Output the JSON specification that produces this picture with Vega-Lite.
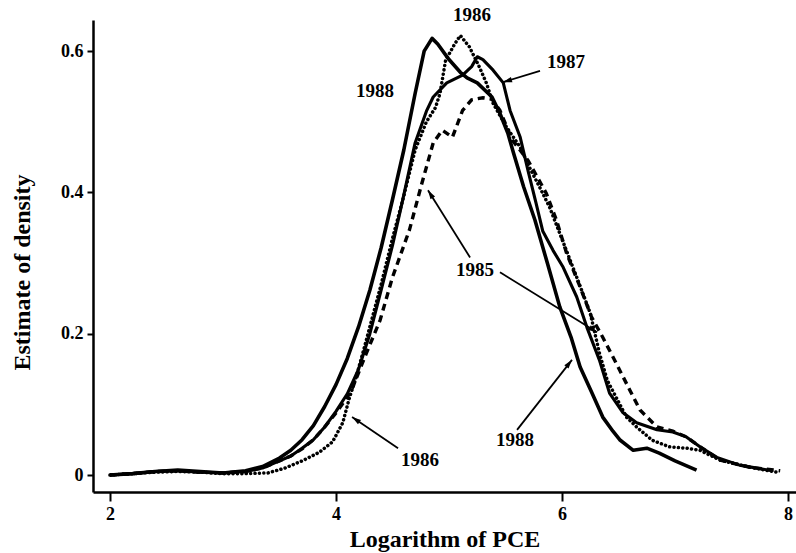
{
  "$schema": "https://vega.github.io/schema/vega-lite/v6.json",
  "width": 703,
  "height": 472,
  "autosize": {"type": "none"},
  "padding": {"left": 93, "top": 20, "right": 0, "bottom": 61},
  "background": "white",
  "config": {
    "view": {"stroke": null},
    "font": "Liberation Serif",
    "axis": {
      "grid": false,
      "domainColor": "black",
      "tickColor": "black",
      "labelColor": "black",
      "titleColor": "black",
      "labelFont": "Liberation Serif",
      "titleFont": "Liberation Serif",
      "labelFontWeight": "bold",
      "titleFontWeight": "bold",
      "labelFontSize": 18,
      "titleFontSize": 24,
      "domainWidth": 2.5,
      "tickWidth": 2
    }
  },
  "datasets": {
    "curves": [
      {"year": "1988", "x": 2.0, "y": 0.0}, {"year": "1988", "x": 2.2, "y": 0.002}, {"year": "1988", "x": 2.4, "y": 0.005}, {"year": "1988", "x": 2.6, "y": 0.007}, {"year": "1988", "x": 2.8, "y": 0.005}, {"year": "1988", "x": 3.0, "y": 0.003}, {"year": "1988", "x": 3.2, "y": 0.006}, {"year": "1988", "x": 3.35, "y": 0.012}, {"year": "1988", "x": 3.5, "y": 0.024}, {"year": "1988", "x": 3.6, "y": 0.035}, {"year": "1988", "x": 3.7, "y": 0.05}, {"year": "1988", "x": 3.8, "y": 0.07}, {"year": "1988", "x": 3.9, "y": 0.097}, {"year": "1988", "x": 4.0, "y": 0.128}, {"year": "1988", "x": 4.1, "y": 0.165}, {"year": "1988", "x": 4.2, "y": 0.21}, {"year": "1988", "x": 4.3, "y": 0.262}, {"year": "1988", "x": 4.4, "y": 0.322}, {"year": "1988", "x": 4.5, "y": 0.39}, {"year": "1988", "x": 4.6, "y": 0.46}, {"year": "1988", "x": 4.7, "y": 0.54}, {"year": "1988", "x": 4.78, "y": 0.6}, {"year": "1988", "x": 4.85, "y": 0.618}, {"year": "1988", "x": 4.9, "y": 0.61}, {"year": "1988", "x": 5.0, "y": 0.588}, {"year": "1988", "x": 5.1, "y": 0.57}, {"year": "1988", "x": 5.16, "y": 0.562}, {"year": "1988", "x": 5.25, "y": 0.555}, {"year": "1988", "x": 5.38, "y": 0.535}, {"year": "1988", "x": 5.45, "y": 0.512}, {"year": "1988", "x": 5.52, "y": 0.484}, {"year": "1988", "x": 5.57, "y": 0.456}, {"year": "1988", "x": 5.66, "y": 0.408}, {"year": "1988", "x": 5.76, "y": 0.361}, {"year": "1988", "x": 5.87, "y": 0.3}, {"year": "1988", "x": 5.98, "y": 0.238}, {"year": "1988", "x": 6.08, "y": 0.195}, {"year": "1988", "x": 6.16, "y": 0.153}, {"year": "1988", "x": 6.26, "y": 0.118}, {"year": "1988", "x": 6.36, "y": 0.082}, {"year": "1988", "x": 6.45, "y": 0.062}, {"year": "1988", "x": 6.51, "y": 0.05}, {"year": "1988", "x": 6.63, "y": 0.035}, {"year": "1988", "x": 6.75, "y": 0.038}, {"year": "1988", "x": 6.86, "y": 0.031}, {"year": "1988", "x": 7.0, "y": 0.02}, {"year": "1988", "x": 7.19, "y": 0.007},
      {"year": "1987", "x": 2.0, "y": 0.0}, {"year": "1987", "x": 2.2, "y": 0.002}, {"year": "1987", "x": 2.4, "y": 0.005}, {"year": "1987", "x": 2.6, "y": 0.006}, {"year": "1987", "x": 2.8, "y": 0.004}, {"year": "1987", "x": 3.0, "y": 0.003}, {"year": "1987", "x": 3.2, "y": 0.005}, {"year": "1987", "x": 3.35, "y": 0.01}, {"year": "1987", "x": 3.5, "y": 0.02}, {"year": "1987", "x": 3.6, "y": 0.027}, {"year": "1987", "x": 3.7, "y": 0.038}, {"year": "1987", "x": 3.8, "y": 0.05}, {"year": "1987", "x": 3.9, "y": 0.068}, {"year": "1987", "x": 4.0, "y": 0.09}, {"year": "1987", "x": 4.1, "y": 0.115}, {"year": "1987", "x": 4.2, "y": 0.15}, {"year": "1987", "x": 4.3, "y": 0.2}, {"year": "1987", "x": 4.4, "y": 0.262}, {"year": "1987", "x": 4.5, "y": 0.325}, {"year": "1987", "x": 4.59, "y": 0.389}, {"year": "1987", "x": 4.7, "y": 0.47}, {"year": "1987", "x": 4.8, "y": 0.515}, {"year": "1987", "x": 4.86, "y": 0.535}, {"year": "1987", "x": 4.98, "y": 0.555}, {"year": "1987", "x": 5.12, "y": 0.566}, {"year": "1987", "x": 5.2, "y": 0.578}, {"year": "1987", "x": 5.25, "y": 0.592}, {"year": "1987", "x": 5.3, "y": 0.588}, {"year": "1987", "x": 5.39, "y": 0.573}, {"year": "1987", "x": 5.48, "y": 0.555}, {"year": "1987", "x": 5.54, "y": 0.516}, {"year": "1987", "x": 5.63, "y": 0.478}, {"year": "1987", "x": 5.7, "y": 0.43}, {"year": "1987", "x": 5.77, "y": 0.385}, {"year": "1987", "x": 5.83, "y": 0.345}, {"year": "1987", "x": 5.92, "y": 0.318}, {"year": "1987", "x": 6.01, "y": 0.294}, {"year": "1987", "x": 6.13, "y": 0.252}, {"year": "1987", "x": 6.22, "y": 0.209}, {"year": "1987", "x": 6.33, "y": 0.163}, {"year": "1987", "x": 6.42, "y": 0.116}, {"year": "1987", "x": 6.54, "y": 0.088}, {"year": "1987", "x": 6.66, "y": 0.074}, {"year": "1987", "x": 6.84, "y": 0.064}, {"year": "1987", "x": 6.98, "y": 0.061}, {"year": "1987", "x": 7.1, "y": 0.054}, {"year": "1987", "x": 7.22, "y": 0.04}, {"year": "1987", "x": 7.37, "y": 0.025}, {"year": "1987", "x": 7.57, "y": 0.014}, {"year": "1987", "x": 7.86, "y": 0.006},
      {"year": "1986", "x": 2.0, "y": 0.0}, {"year": "1986", "x": 2.2, "y": 0.002}, {"year": "1986", "x": 2.4, "y": 0.004}, {"year": "1986", "x": 2.6, "y": 0.005}, {"year": "1986", "x": 2.8, "y": 0.004}, {"year": "1986", "x": 3.0, "y": 0.002}, {"year": "1986", "x": 3.2, "y": 0.002}, {"year": "1986", "x": 3.4, "y": 0.003}, {"year": "1986", "x": 3.55, "y": 0.01}, {"year": "1986", "x": 3.7, "y": 0.02}, {"year": "1986", "x": 3.85, "y": 0.032}, {"year": "1986", "x": 3.97, "y": 0.047}, {"year": "1986", "x": 4.06, "y": 0.074}, {"year": "1986", "x": 4.12, "y": 0.11}, {"year": "1986", "x": 4.17, "y": 0.134}, {"year": "1986", "x": 4.25, "y": 0.18}, {"year": "1986", "x": 4.3, "y": 0.21}, {"year": "1986", "x": 4.4, "y": 0.27}, {"year": "1986", "x": 4.5, "y": 0.335}, {"year": "1986", "x": 4.6, "y": 0.395}, {"year": "1986", "x": 4.7, "y": 0.46}, {"year": "1986", "x": 4.8, "y": 0.5}, {"year": "1986", "x": 4.88, "y": 0.52}, {"year": "1986", "x": 4.92, "y": 0.54}, {"year": "1986", "x": 4.97, "y": 0.587}, {"year": "1986", "x": 5.05, "y": 0.61}, {"year": "1986", "x": 5.1, "y": 0.622}, {"year": "1986", "x": 5.18, "y": 0.606}, {"year": "1986", "x": 5.27, "y": 0.577}, {"year": "1986", "x": 5.33, "y": 0.555}, {"year": "1986", "x": 5.39, "y": 0.526}, {"year": "1986", "x": 5.51, "y": 0.492}, {"year": "1986", "x": 5.63, "y": 0.464}, {"year": "1986", "x": 5.71, "y": 0.436}, {"year": "1986", "x": 5.8, "y": 0.408}, {"year": "1986", "x": 5.89, "y": 0.379}, {"year": "1986", "x": 5.98, "y": 0.342}, {"year": "1986", "x": 6.13, "y": 0.28}, {"year": "1986", "x": 6.25, "y": 0.229}, {"year": "1986", "x": 6.33, "y": 0.173}, {"year": "1986", "x": 6.4, "y": 0.134}, {"year": "1986", "x": 6.57, "y": 0.082}, {"year": "1986", "x": 6.66, "y": 0.068}, {"year": "1986", "x": 6.8, "y": 0.049}, {"year": "1986", "x": 6.95, "y": 0.04}, {"year": "1986", "x": 7.1, "y": 0.038}, {"year": "1986", "x": 7.22, "y": 0.035}, {"year": "1986", "x": 7.4, "y": 0.021}, {"year": "1986", "x": 7.66, "y": 0.011}, {"year": "1986", "x": 7.9, "y": 0.004},
      {"year": "1985", "x": 2.0, "y": 0.0}, {"year": "1985", "x": 2.2, "y": 0.002}, {"year": "1985", "x": 2.4, "y": 0.005}, {"year": "1985", "x": 2.6, "y": 0.006}, {"year": "1985", "x": 2.8, "y": 0.004}, {"year": "1985", "x": 3.0, "y": 0.003}, {"year": "1985", "x": 3.2, "y": 0.005}, {"year": "1985", "x": 3.35, "y": 0.01}, {"year": "1985", "x": 3.5, "y": 0.02}, {"year": "1985", "x": 3.6, "y": 0.027}, {"year": "1985", "x": 3.7, "y": 0.037}, {"year": "1985", "x": 3.8, "y": 0.05}, {"year": "1985", "x": 3.9, "y": 0.068}, {"year": "1985", "x": 4.0, "y": 0.088}, {"year": "1985", "x": 4.1, "y": 0.11}, {"year": "1985", "x": 4.15, "y": 0.125}, {"year": "1985", "x": 4.27, "y": 0.173}, {"year": "1985", "x": 4.39, "y": 0.219}, {"year": "1985", "x": 4.5, "y": 0.28}, {"year": "1985", "x": 4.65, "y": 0.347}, {"year": "1985", "x": 4.76, "y": 0.413}, {"year": "1985", "x": 4.86, "y": 0.47}, {"year": "1985", "x": 4.94, "y": 0.488}, {"year": "1985", "x": 5.03, "y": 0.478}, {"year": "1985", "x": 5.12, "y": 0.516}, {"year": "1985", "x": 5.2, "y": 0.531}, {"year": "1985", "x": 5.3, "y": 0.534}, {"year": "1985", "x": 5.38, "y": 0.532}, {"year": "1985", "x": 5.45, "y": 0.516}, {"year": "1985", "x": 5.56, "y": 0.474}, {"year": "1985", "x": 5.7, "y": 0.445}, {"year": "1985", "x": 5.86, "y": 0.399}, {"year": "1985", "x": 5.95, "y": 0.361}, {"year": "1985", "x": 6.04, "y": 0.314}, {"year": "1985", "x": 6.16, "y": 0.266}, {"year": "1985", "x": 6.26, "y": 0.224}, {"year": "1985", "x": 6.36, "y": 0.195}, {"year": "1985", "x": 6.48, "y": 0.158}, {"year": "1985", "x": 6.6, "y": 0.12}, {"year": "1985", "x": 6.69, "y": 0.092}, {"year": "1985", "x": 6.84, "y": 0.068}, {"year": "1985", "x": 6.98, "y": 0.062}, {"year": "1985", "x": 7.1, "y": 0.054}, {"year": "1985", "x": 7.22, "y": 0.04}, {"year": "1985", "x": 7.4, "y": 0.021}, {"year": "1985", "x": 7.66, "y": 0.011}, {"year": "1985", "x": 7.93, "y": 0.006}
    ],
    "labels": [
      {"t": "1988", "x": 4.345, "y": 0.543},
      {"t": "1986", "x": 5.204, "y": 0.651},
      {"t": "1987", "x": 6.035, "y": 0.584},
      {"t": "1985", "x": 5.23, "y": 0.29},
      {"t": "1988", "x": 5.584, "y": 0.0495},
      {"t": "1986", "x": 4.743, "y": 0.021}
    ],
    "arrows": [
      {"id": "a1987", "x": 5.805, "y": 0.572, "x2": 5.478, "y2": 0.556},
      {"id": "a1985a", "x": 5.186, "y": 0.308, "x2": 4.814, "y2": 0.403},
      {"id": "a1985b", "x": 5.451, "y": 0.287, "x2": 6.31, "y2": 0.202},
      {"id": "a1988", "x": 5.602, "y": 0.064, "x2": 6.088, "y2": 0.163},
      {"id": "a1986", "x": 4.549, "y": 0.038, "x2": 4.142, "y2": 0.082}
    ]
  },
  "encoding": {
    "x": {
      "field": "x", "type": "quantitative",
      "scale": {"domain": [1.85, 8.07], "nice": false, "zero": false},
      "axis": {"values": [2, 4, 6, 8], "tickSize": 9, "labelPadding": 4, "title": "Logarithm of PCE", "titleY": 35, "titleBaseline": "top"}
    },
    "y": {
      "field": "y", "type": "quantitative",
      "scale": {"domain": [-0.024, 0.644], "nice": false, "zero": false},
      "axis": {"values": [0, 0.2, 0.4, 0.6], "format": ".1~f", "tickSize": 6, "labelPadding": 4, "title": "Estimate of density", "titleX": -71, "titleY": 252, "titleBaseline": "middle", "titleAlign": "center", "titleAngle": -90}
    }
  },
  "layer": [
    {
      "data": {"name": "curves"},
      "transform": [{"filter": "datum.year == '1985'"}],
      "mark": {"type": "line", "color": "black", "strokeWidth": 3.4, "strokeDash": [7, 5]},
      "encoding": {}
    },
    {
      "data": {"name": "curves"},
      "transform": [{"filter": "datum.year == '1986'"}],
      "mark": {"type": "line", "color": "black", "strokeWidth": 3.5, "strokeCap": "round", "strokeDash": [0.1, 4.3]},
      "encoding": {}
    },
    {
      "data": {"name": "curves"},
      "transform": [{"filter": "datum.year == '1987'"}],
      "mark": {"type": "line", "color": "black", "strokeWidth": 3.1, "strokeJoin": "round"},
      "encoding": {}
    },
    {
      "data": {"name": "curves"},
      "transform": [{"filter": "datum.year == '1988'"}],
      "mark": {"type": "line", "color": "black", "strokeWidth": 3.6, "strokeJoin": "round"},
      "encoding": {}
    },
    {
      "data": {"name": "arrows"},
      "mark": {"type": "rule", "color": "black", "strokeWidth": 1.8},
      "encoding": {"x2": {"field": "x2"}, "y2": {"field": "y2"}}
    },
    {
      "data": {"name": "arrows"},
      "transform": [{"filter": "datum.id == 'a1987'"}],
      "mark": {"type": "point", "shape": "M0,0L-0.3,1L0.3,1Z", "filled": true, "color": "black", "opacity": 1, "size": 324, "angle": 253.4},
      "encoding": {"x": {"field": "x2", "type": "quantitative", "scale": {"domain": [1.85, 8.07], "nice": false, "zero": false}}, "y": {"field": "y2", "type": "quantitative", "scale": {"domain": [-0.024, 0.644], "nice": false, "zero": false}}}
    },
    {
      "data": {"name": "arrows"},
      "transform": [{"filter": "datum.id == 'a1985a'"}],
      "mark": {"type": "point", "shape": "M0,0L-0.3,1L0.3,1Z", "filled": true, "color": "black", "opacity": 1, "size": 324, "angle": 327.9},
      "encoding": {"x": {"field": "x2", "type": "quantitative", "scale": {"domain": [1.85, 8.07], "nice": false, "zero": false}}, "y": {"field": "y2", "type": "quantitative", "scale": {"domain": [-0.024, 0.644], "nice": false, "zero": false}}}
    },
    {
      "data": {"name": "arrows"},
      "transform": [{"filter": "datum.id == 'a1985b'"}],
      "mark": {"type": "point", "shape": "M0,0L-0.3,1L0.3,1Z", "filled": true, "color": "black", "opacity": 1, "size": 324, "angle": 121.7},
      "encoding": {"x": {"field": "x2", "type": "quantitative", "scale": {"domain": [1.85, 8.07], "nice": false, "zero": false}}, "y": {"field": "y2", "type": "quantitative", "scale": {"domain": [-0.024, 0.644], "nice": false, "zero": false}}}
    },
    {
      "data": {"name": "arrows"},
      "transform": [{"filter": "datum.id == 'a1988'"}],
      "mark": {"type": "point", "shape": "M0,0L-0.3,1L0.3,1Z", "filled": true, "color": "black", "opacity": 1, "size": 324, "angle": 38.2},
      "encoding": {"x": {"field": "x2", "type": "quantitative", "scale": {"domain": [1.85, 8.07], "nice": false, "zero": false}}, "y": {"field": "y2", "type": "quantitative", "scale": {"domain": [-0.024, 0.644], "nice": false, "zero": false}}}
    },
    {
      "data": {"name": "arrows"},
      "transform": [{"filter": "datum.id == 'a1986'"}],
      "mark": {"type": "point", "shape": "M0,0L-0.3,1L0.3,1Z", "filled": true, "color": "black", "opacity": 1, "size": 324, "angle": 304},
      "encoding": {"x": {"field": "x2", "type": "quantitative", "scale": {"domain": [1.85, 8.07], "nice": false, "zero": false}}, "y": {"field": "y2", "type": "quantitative", "scale": {"domain": [-0.024, 0.644], "nice": false, "zero": false}}}
    },
    {
      "data": {"name": "labels"},
      "mark": {"type": "text", "font": "Liberation Serif", "fontWeight": "bold", "fontSize": 19, "color": "black", "align": "center", "baseline": "middle"},
      "encoding": {"text": {"field": "t"}}
    }
  ]
}
